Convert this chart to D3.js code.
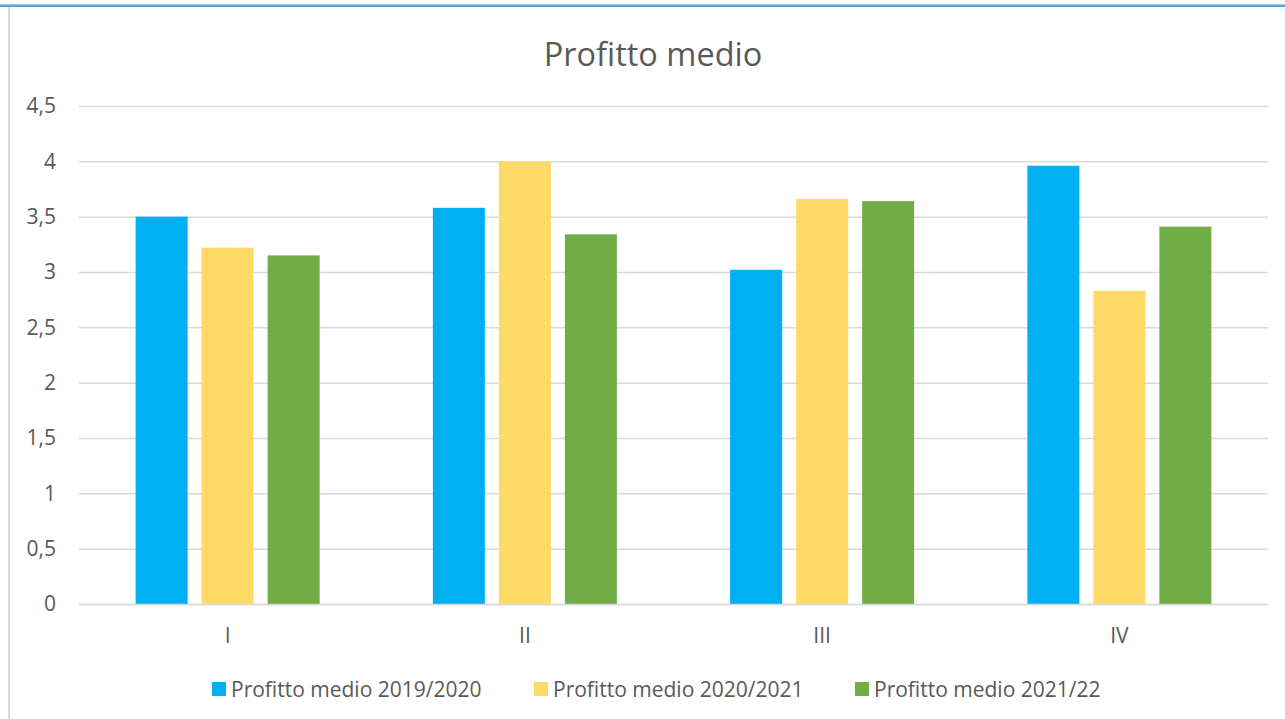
<!DOCTYPE html>
<html>
<head>
<meta charset="utf-8">
<script src="https://cdn.jsdelivr.net/npm/d3@7"></script>
<style>
  body { margin: 0; background: #fff; }
  text { font-family: "Open Sans", "Noto Sans", sans-serif; fill: #595959; }
</style>
</head>
<body>
<script>
// Data
var categories = ["I", "II", "III", "IV"];
var seriesNames = ["Profitto medio 2019/2020", "Profitto medio 2020/2021", "Profitto medio 2021/22"];
var values2019 = [3.5, 3.58, 3.02, 3.96];
var values2020 = [3.22, 4.0, 3.66, 2.83];
var values2021 = [3.15, 3.34, 3.64, 3.41];
var yTicks = [0, 0.5, 1, 1.5, 2, 2.5, 3, 3.5, 4, 4.5];

var colors = ["#00B0F0", "#FFD966", "#70AD47"];
var seriesValues = [values2019, values2020, values2021];

// Set up svg
var svgWidth = 1285;
var svgHeight = 719;

var margin = { top: 106, right: 17, bottom: 115, left: 79 };
var width = svgWidth - margin.left - margin.right;
var height = svgHeight - margin.top - margin.bottom;

var svg = d3.select("body")
  .append("svg")
  .attr("width", svgWidth)
  .attr("height", svgHeight);

// frame: blue line on top, grey border on the left
svg.append("rect")
  .attr("x", 0).attr("y", 4.5).attr("width", svgWidth).attr("height", 2.5)
  .attr("fill", "#5BA4CF");
svg.append("rect")
  .attr("x", 8).attr("y", 7).attr("width", 2).attr("height", svgHeight - 7)
  .attr("fill", "#D9D9D9");

var chartGroup = svg.append("g")
  .attr("transform", `translate(${margin.left}, ${margin.top})`);

var locale = d3.formatLocale({ decimal: ",", thousands: ".", grouping: [3], currency: ["", "€"] });
var fmt = locale.format("~g");

// scales
var x0 = d3.scaleBand().domain(categories).range([0, width]).padding(0);
var groupWidth = 184;
var x1 = d3.scaleBand()
  .domain(d3.range(seriesNames.length))
  .range([(x0.bandwidth() - groupWidth) / 2, (x0.bandwidth() + groupWidth) / 2])
  .paddingInner(0.212)
  .paddingOuter(0);
var y = d3.scaleLinear().domain([0, 4.5]).range([height, 0]);

// gridlines
var leftAxis = d3.axisLeft(y).tickValues(yTicks).tickSize(-width).tickFormat(fmt).tickPadding(23);
var yAxisG = chartGroup.append("g").call(leftAxis);
yAxisG.select(".domain").remove();
yAxisG.selectAll(".tick line").attr("stroke", "#D9D9D9").attr("stroke-width", 1.5);
yAxisG.selectAll(".tick text").style("font-size", "21px").attr("fill", "#595959");

// bars
var rows = categories.map(function(c, i) {
  return { cat: c, vals: seriesValues.map(function(s) { return s[i]; }) };
});

var groups = chartGroup.selectAll(".grp")
  .data(rows)
  .enter()
  .append("g")
  .attr("class", "grp")
  .attr("transform", d => `translate(${x0(d.cat)},0)`);

groups.selectAll("rect")
  .data(d => d.vals.map((v, k) => ({ k: k, v: v })))
  .enter()
  .append("rect")
  .attr("x", d => x1(d.k))
  .attr("width", x1.bandwidth())
  .attr("y", d => y(d.v))
  .attr("height", d => height - y(d.v))
  .attr("fill", d => colors[d.k]);

// x axis
var bottomAxis = d3.axisBottom(x0).tickSize(0).tickPadding(24);
var xAxisG = chartGroup.append("g")
  .attr("transform", `translate(0, ${height})`)
  .call(bottomAxis);
xAxisG.select(".domain").attr("stroke", "#D9D9D9").attr("stroke-width", 1.5);
xAxisG.selectAll(".tick text").style("font-size", "21px").attr("fill", "#595959");

// title
svg.append("text")
  .attr("x", 653)
  .attr("y", 53)
  .attr("text-anchor", "middle")
  .attr("dominant-baseline", "central")
  .style("font-size", "32.5px")
  .text("Profitto medio");

// legend
var legendX = [212, 534, 855];
var legend = svg.selectAll(".legend")
  .data(seriesNames)
  .enter()
  .append("g")
  .attr("class", "legend")
  .attr("transform", (d, i) => `translate(${legendX[i]}, 689)`);

legend.append("rect")
  .attr("x", 0).attr("y", -7)
  .attr("width", 14).attr("height", 14)
  .attr("fill", (d, i) => colors[i]);

legend.append("text")
  .attr("x", 19)
  .attr("y", 0)
  .attr("dominant-baseline", "central")
  .style("font-size", "21px")
  .text(d => d);
</script>
</body>
</html>
